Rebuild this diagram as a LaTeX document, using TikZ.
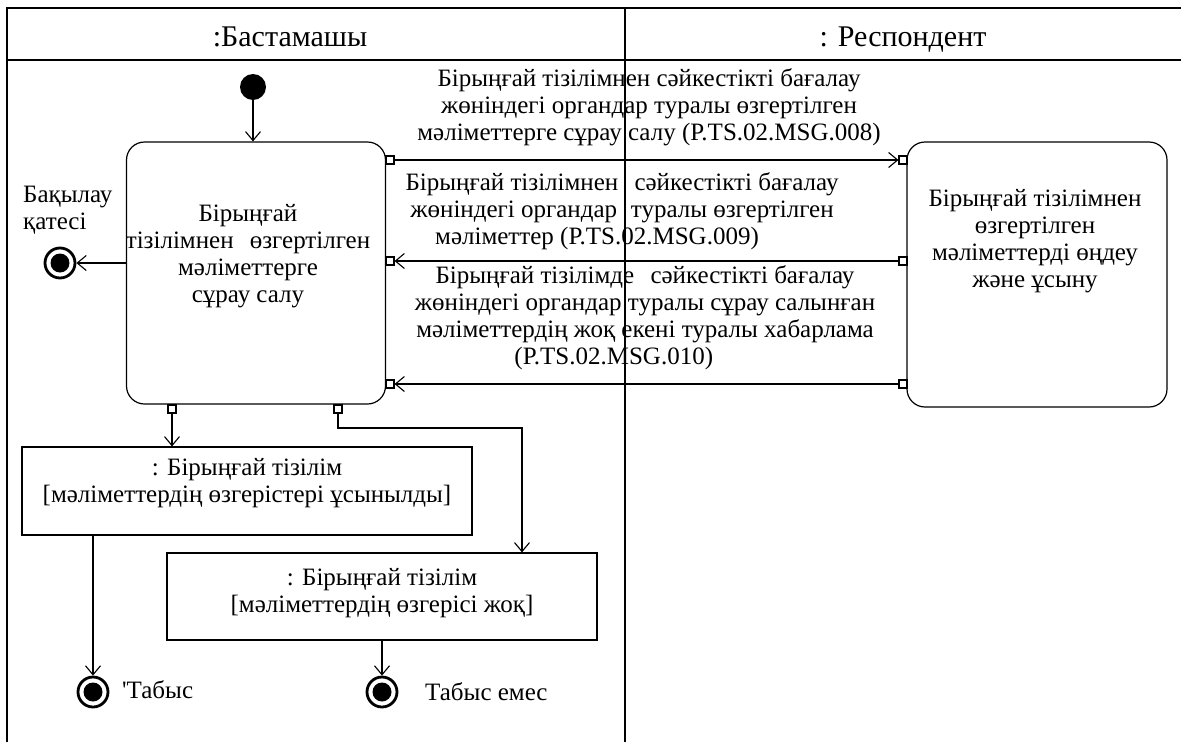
\documentclass[tikz,border=0pt]{standalone}
\usepackage{fontspec}
\setmainfont{Liberation Serif}
\newfontfamily\plainserif[Ligatures=ResetAll]{Liberation Serif}
\usetikzlibrary{arrows.meta}
\tikzset{
  txt/.style={font=\fontsize{25}{27}\selectfont, align=center, inner sep=0pt},
  hdr/.style={font=\fontsize{30}{32}\selectfont, inner sep=0pt, anchor=base},
  actbox/.style={draw, line width=1.2pt, rounded corners=18pt, inner sep=0pt},
  objbox/.style={draw, line width=1.2pt, inner sep=0pt},
  pin/.style={draw, fill=white, line width=1.1pt, minimum size=8pt, inner sep=0pt},
  arr/.style={line width=1.1pt, -{Straight Barb[length=9pt,width=15pt,line width=1.1pt]}},
  initnode/.style={circle, fill=black, minimum size=26pt, inner sep=0pt},
  finout/.style={circle, draw, line width=2.8pt, fill=white, minimum size=30pt, inner sep=0pt},
  finin/.style={circle, fill=black, minimum size=19pt, inner sep=0pt},
  frame/.style={line width=1.4pt}
}
\begin{document}
\begin{tikzpicture}[x=1pt,y=-1pt]
\useasboundingbox (0,0) rectangle (1181,742);
% frame
\draw[frame] (1181,8) -- (7,8) -- (7,742);
\draw[frame] (7,60) -- (1181,60);
\draw[frame] (625,8) -- (625,742);
\node[hdr] (h1) at (290,46) {:Бастамашы};
\node[hdr] (h2) at (903,46) {: Респондент};
% initial
\node[initnode] (init) at (253,87) {};
% action boxes
\node[actbox, minimum width=259pt, minimum height=262pt] (A) at (256,273) {};
\node[txt] (At) at (248,256) {Бірыңғай\\тізілімнен\hspace{0.4em} өзгертілген\\мәліметтерге\\сұрау салу};
\node[actbox, minimum width=260pt, minimum height=265pt] (B) at (1037,274.5) {};
\node[txt] (Bt) at (1035,241) {Бірыңғай тізілімнен\\өзгертілген\\мәліметтерді өңдеу\\және ұсыну};
% pins
\node[pin] (pa1) at (390,160) {};
\node[pin] (pa2) at (390,261) {};
\node[pin] (pa3) at (390,384) {};
\node[pin] (pb1) at (903,160) {};
\node[pin] (pb2) at (903,261) {};
\node[pin] (pb3) at (903,384) {};
\node[pin] (pd1) at (172,409) {};
\node[pin] (pd2) at (338,409) {};
% messages
\draw[arr] (pa1.east) -- (pb1.west);
\draw[arr] (pb2.west) -- (pa2.east);
\draw[arr] (pb3.west) -- (pa3.east);
\node[txt] (m1) at (649,107) {Бірыңғай тізілімнен сәйкестікті бағалау\\жөніндегі органдар туралы өзгертілген\\мәліметтерге сұрау салу (P.TS.02.MSG.008)};
\node[txt] (m2) at (622,211) {Бірыңғай тізілімнен\hspace{0.4em} сәйкестікті бағалау\\жөніндегі органдар\hspace{0.3em} туралы өзгертілген\\мәліметтер (P.TS.02.MSG.009)\hspace*{2em}};
\node[txt] (m3) at (645,318) {Бірыңғай тізілімде\hspace{0.4em} сәйкестікті бағалау\\жөніндегі органдар туралы сұрау салынған\\мәліметтердің жоқ екені туралы хабарлама\\(P.TS.02.MSG.010)\hspace*{2.5em}};
\draw[arr] (init) -- (init |- A.north);
% control error
\node[finout] (fe) at (60,263) {};
\node[finin] (fei) at (fe) {};
\draw[arr] (A.west |- fe) -- (fe.east);
\node[txt, align=left, anchor=north west] (fel) at (23,186) {Бақылау\\қатесі};
% object boxes
\node[objbox, minimum width=450pt, minimum height=88pt] (O1) at (247,491) {};
\node[txt] (O1t) at (247,483) {: Бірыңғай тізілім\\{[}мәліметтердің өзгерістері ұсынылды{]}};
\node[objbox, minimum width=430pt, minimum height=87pt] (O2) at (382,596.5) {};
\node[txt] (O2t) at (382,593) {: Бірыңғай тізілім\\{[}мәліметтердің өзгерісі жоқ{]}};
\coordinate (bend) at (522,428);
\draw[arr] (pd1.south) -- (pd1.south |- O1.north);
\draw[arr] (pd2.south) |- (bend) -- (bend |- O2.north);
% finals
\node[finout] (f1) at (93,692) {};
\node[finin] (f1i) at (f1) {};
\node[finout] (f2) at (382,692) {};
\node[finin] (f2i) at (f2) {};
\draw[arr] (O1.south -| f1) -- (f1.north);
\draw[arr] (O2.south -| f2) -- (f2.north);
\node[txt, anchor=west] (f1l) at (122,690) {{\plainserif\char"0027}Табыс};
\node[txt, anchor=west] (f2l) at (425,692) {Табыс емес};
\end{tikzpicture}
\end{document}
